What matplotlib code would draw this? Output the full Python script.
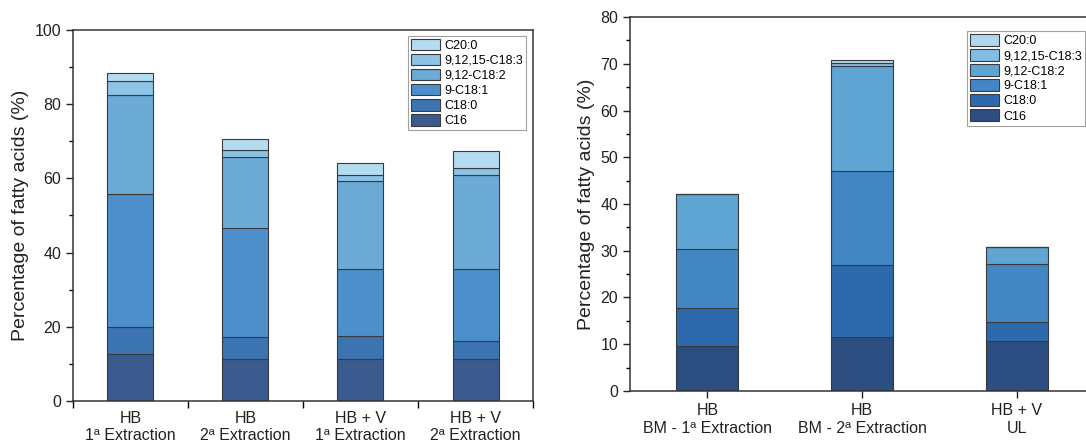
import numpy as np
import matplotlib.pyplot as plt
from matplotlib.ticker import MultipleLocator, FixedLocator

plt.rcParams['font.family'] = ['Liberation Sans', 'DejaVu Sans']

acids = ['C16', 'C18:0', '9-C18:1', '9,12-C18:2', '9,12,15-C18:3', 'C20:0']

# left panel
left_labels = ['HB\n1ª Extraction', 'HB\n2ª Extraction', 'HB + V\n1ª Extraction', 'HB + V\n2ª Extraction']
left_c16 = [12.7, 11.3, 11.4, 11.2]
left_c180 = [7.2, 5.9, 6.0, 5.1]
left_c181 = [35.9, 29.4, 18.2, 19.4]
left_c182 = [26.7, 19.3, 23.7, 25.1]
left_c183 = [3.8, 1.7, 1.5, 1.9]
left_c200 = [2.0, 2.9, 3.4, 4.6]

# right panel
right_labels = ['HB\nBM - 1ª Extraction', 'HB\nBM - 2ª Extraction', 'HB + V\nUL']
right_c16 = [9.7, 11.5, 10.7]
right_c180 = [8.0, 15.5, 4.1]
right_c181 = [12.7, 20.0, 12.4]
right_c182 = [11.8, 22.6, 3.6]
right_c183 = [0.0, 0.6, 0.0]
right_c200 = [0.0, 0.6, 0.0]

left_colors = ['#3b5a8e', '#3b74b1', '#4d8fcb', '#6babd6', '#8dc4e6', '#b4dcf0']
right_colors = ['#2c4d80', '#2c6aad', '#4286c4', '#5fa5d3', '#84bde4', '#afd8ee']

fig = plt.figure(figsize=(10.86, 4.43), dpi=100)
ax1 = fig.add_axes([0.0672, 0.0948, 0.4236, 0.8375])
ax2 = fig.add_axes([0.5801, 0.1174, 0.4273, 0.8442])


def stacked(ax, series, labels, colors):
    x = np.arange(1, len(labels) + 1)
    bottom = np.zeros(len(labels))
    handles = []
    for name, vals, col in zip(acids, series, colors):
        vals = np.array(vals)
        b = ax.bar(x, vals, width=0.4, bottom=bottom, color=col,
                   edgecolor='#3a3a3a', linewidth=0.8, label=name)
        handles.append(b)
        bottom = bottom + vals
    return x, handles


x1, h1 = stacked(ax1, [left_c16, left_c180, left_c181, left_c182, left_c183, left_c200],
                 left_labels, left_colors)
x2, h2 = stacked(ax2, [right_c16, right_c180, right_c181, right_c182, right_c183, right_c200],
                 right_labels, right_colors)

# left axis styling
ax1.set_xlim(0.5, 4.5)
ax1.set_ylim(0, 100)
ax1.yaxis.set_major_locator(MultipleLocator(20))
ax1.yaxis.set_minor_locator(MultipleLocator(10))
ax1.set_xticks(x1)
ax1.set_xticklabels(left_labels, fontsize=11.5)
ax1.tick_params(axis='x', which='major', length=0, pad=7)
ax1.xaxis.set_minor_locator(FixedLocator(np.arange(0.5, 4.6, 1.0)))
ax1.tick_params(axis='x', which='minor', length=5, width=1)

# right axis styling
ax2.set_xlim(0.5, 3.5)
ax2.set_ylim(0, 80)
ax2.yaxis.set_major_locator(MultipleLocator(10))
ax2.yaxis.set_minor_locator(MultipleLocator(5))
ax2.set_xticks(x2)
ax2.set_xticklabels(right_labels, fontsize=11.5)
ax2.tick_params(axis='x', which='major', length=5, width=1, pad=4)

for ax in (ax1, ax2):
    ax.tick_params(axis='y', which='major', length=5, width=1, labelsize=11.5)
    ax.tick_params(axis='y', which='minor', length=3, width=1)
    ax.tick_params(direction='out', colors='#222222')
    ax.tick_params(axis='x', which='both', bottom=True, top=False)
    for s in ax.spines.values():
        s.set_linewidth(1.1)
        s.set_color('#333333')
    ax.set_ylabel('Percentage of fatty acids (%)', fontsize=14, color='#222222')

leg_kw = dict(frameon=True, fancybox=False, edgecolor='#888888',
              handlelength=2.3, handleheight=1.05, handletextpad=0.35,
              labelspacing=0.16, borderpad=0.25)
leg1 = ax1.legend(h1[::-1], acids[::-1], loc='upper right', fontsize=9,
                  bbox_to_anchor=(0.985, 0.985), borderaxespad=0, **leg_kw)
leg1.get_frame().set_linewidth(0.8)
leg2 = fig.legend(h2[::-1], acids[::-1], loc='upper right', fontsize=9,
                  bbox_to_anchor=(0.999, 0.93), borderaxespad=0, **leg_kw)
leg2.get_frame().set_linewidth(0.8)

fig.savefig('out.png', dpi=100)
